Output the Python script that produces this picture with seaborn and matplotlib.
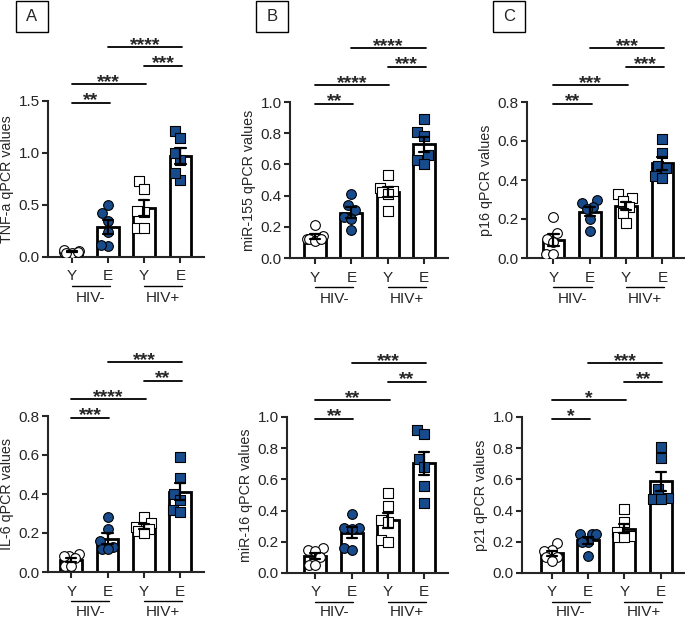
import numpy as np
import pandas as pd
import seaborn as sns
import matplotlib.pyplot as plt
import matplotlib.transforms as mtransforms
from matplotlib.patches import Rectangle
from matplotlib.ticker import FormatStrFormatter

sns.set_style("ticks")
plt.rcParams['font.family'] = ['Liberation Sans', 'DejaVu Sans']

groups = ["Y HIV-", "E HIV-", "Y HIV+", "E HIV+"]
tick_labels = ["Y", "E", "Y", "E"]

# six donors per group
tnf_a = [[0.04, 0.06, 0.05, 0.07, 0.05, 0.04],
         [0.50, 0.35, 0.42, 0.24, 0.11, 0.12],
         [0.73, 0.65, 0.43, 0.44, 0.28, 0.28],
         [1.21, 1.14, 0.93, 1.00, 0.74, 0.81]]
mir_155 = [[0.21, 0.14, 0.12, 0.12, 0.11, 0.12],
           [0.41, 0.34, 0.31, 0.26, 0.25, 0.18],
           [0.53, 0.45, 0.43, 0.42, 0.41, 0.30],
           [0.89, 0.81, 0.78, 0.66, 0.63, 0.60]]
p16 = [[0.21, 0.13, 0.10, 0.08, 0.02, 0.02],
       [0.30, 0.28, 0.26, 0.25, 0.20, 0.14],
       [0.33, 0.31, 0.29, 0.26, 0.23, 0.18],
       [0.61, 0.54, 0.47, 0.46, 0.42, 0.41]]
il_6 = [[0.09, 0.08, 0.08, 0.07, 0.03, 0.03],
        [0.28, 0.22, 0.16, 0.13, 0.12, 0.12],
        [0.28, 0.25, 0.23, 0.22, 0.21, 0.20],
        [0.59, 0.48, 0.40, 0.37, 0.32, 0.31]]
mir_16 = [[0.16, 0.15, 0.14, 0.10, 0.05, 0.05],
          [0.38, 0.29, 0.29, 0.28, 0.16, 0.15],
          [0.51, 0.43, 0.34, 0.33, 0.21, 0.20],
          [0.915, 0.89, 0.73, 0.68, 0.56, 0.45]]
p21 = [[0.19, 0.15, 0.14, 0.10, 0.10, 0.08],
       [0.25, 0.25, 0.25, 0.20, 0.20, 0.11],
       [0.41, 0.33, 0.26, 0.24, 0.23, 0.23],
       [0.81, 0.74, 0.54, 0.48, 0.475, 0.475]]

names = ["TNF-a", "miR-155", "p16", "IL-6", "miR-16", "p21"]
values = [tnf_a, mir_155, p16, il_6, mir_16, p21]
y_max = [1.5, 1.0, 0.8, 0.8, 1.0, 1.0]
y_step = [0.5, 0.2, 0.2, 0.2, 0.2, 0.2]
pairs = [(0, 1), (0, 2), (2, 3), (1, 3)]
stars = [["**", "***", "***", "****"],
         ["**", "****", "***", "****"],
         ["**", "***", "***", "***"],
         ["***", "****", "**", "***"],
         ["**", "**", "**", "***"],
         ["*", "*", "**", "***"]]
panel_letters = ["A", "B", "C"]

blue = "#174b8c"
markers = ["o", "o", "s", "s"]
fills = ["white", blue, "white", blue]

W, H = 685, 618
# axes frames in pixels: left, bottom (from top), x-limit left, HIV label drop
frames = [(48, 257, -0.65, 45), (290, 258, -0.69, 45), (527, 258, -0.73, 45),
          (48, 572, -0.64, 44), (287, 573, -0.78, 43.5), (522, 573, -0.82, 43.5)]
unit = 36.3
ax_h = 156
x_right = 3.66

fig = plt.figure(figsize=(W / 100, H / 100), dpi=100)
axes = []

for i in range(6):
    left, bottom, xl, drop = frames[i]
    width = (x_right - xl) * unit
    ax = fig.add_axes([left / W, (H - bottom) / H, width / W, ax_h / H])
    axes.append(ax)

    df = pd.DataFrame({"group": np.repeat(groups, 6),
                       "value": np.concatenate(values[i])})
    sns.barplot(data=df, x="group", y="value", order=groups, errorbar="se",
                capsize=0.28, width=0.6, color="white", saturation=1,
                edgecolor="black", linewidth=2.0,
                err_kws={"color": "black", "linewidth": 1.6}, ax=ax)
    for g, m, fc in zip(groups, markers, fills):
        sns.swarmplot(data=df[df["group"] == g], x="group", y="value",
                      order=groups, marker=m, color=fc, edgecolor="black",
                      linewidth=0.8, size=7.0, warn_thresh=1, ax=ax)
    for line in ax.lines:
        line.set_zorder(5)

    ax.set_xlim(xl, x_right)
    ax.set_ylim(0, y_max[i])
    ax.set_yticks(np.arange(0, y_max[i] + 1e-9, y_step[i]))
    ax.yaxis.set_major_formatter(FormatStrFormatter('%.1f'))
    ax.set_xticks(range(4))
    ax.set_xticklabels(tick_labels)
    ax.set_xlabel("")
    ax.set_ylabel(f"{names[i]} qPCR values", fontsize=10.3, labelpad=3)
    sns.despine(ax=ax)
    for sp in ["left", "bottom"]:
        ax.spines[sp].set_linewidth(1.5)
    ax.tick_params(axis="both", width=1.5, length=4, labelsize=11, pad=2)
    ax.tick_params(axis="x", pad=5)

    trans = mtransforms.blended_transform_factory(ax.transData, ax.transAxes)
    for k, ((a, b), s) in enumerate(zip(pairs, stars[i])):
        y = 1 + (k * 18.5 - 1.5) / ax_h
        ax.plot([a, b + 0.05], [y, y], transform=trans, clip_on=False,
                color="black", lw=1.3)
        ax.annotate(s, xy=((a + b + 0.05) / 2, y), xycoords=trans,
                    xytext=(0, -2.2), textcoords="offset points",
                    ha="center", va="baseline", fontsize=14, fontweight="bold")

    for (a, b), lab in zip([(0, 1), (2, 3)], ["HIV-", "HIV+"]):
        y = -28.5 / ax_h
        ax.plot([a, b + 0.05], [y, y], transform=trans, clip_on=False,
                color="black", lw=1.0)
        ax.text((a + b + 0.05) / 2, -drop / ax_h, lab, transform=trans,
                ha="center", va="baseline", fontsize=11)

# boxed panel letters
for lab, x0 in zip(panel_letters, [16, 256, 493]):
    fig.add_artist(Rectangle((x0 / W, (H - 32) / H), 32 / W, 31 / H,
                             transform=fig.transFigure, fill=False, lw=1.0,
                             edgecolor="black"))
    fig.text((x0 + 16) / W, (H - 16.5) / H, lab, ha="center", va="center",
             fontsize=12)

# let seaborn lay out the swarms once, then squeeze them so the dots
# overlap inside the bar like the prism original
fig.canvas.draw()
for ax in axes:
    for coll in ax.collections:
        off = np.asarray(coll.get_offsets())
        if len(off) == 0:
            continue
        center = np.round(off[:, 0].mean())
        dev = off[:, 0] - center
        spread = np.abs(dev).max()
        if spread > 0:
            off[:, 0] = center + dev * min(0.65, 0.21 / spread)
        if "draw" in coll.__dict__:
            del coll.draw
        coll.set_offsets(off)
        coll.set_zorder(3)

fig.savefig("out.png", dpi=100)
